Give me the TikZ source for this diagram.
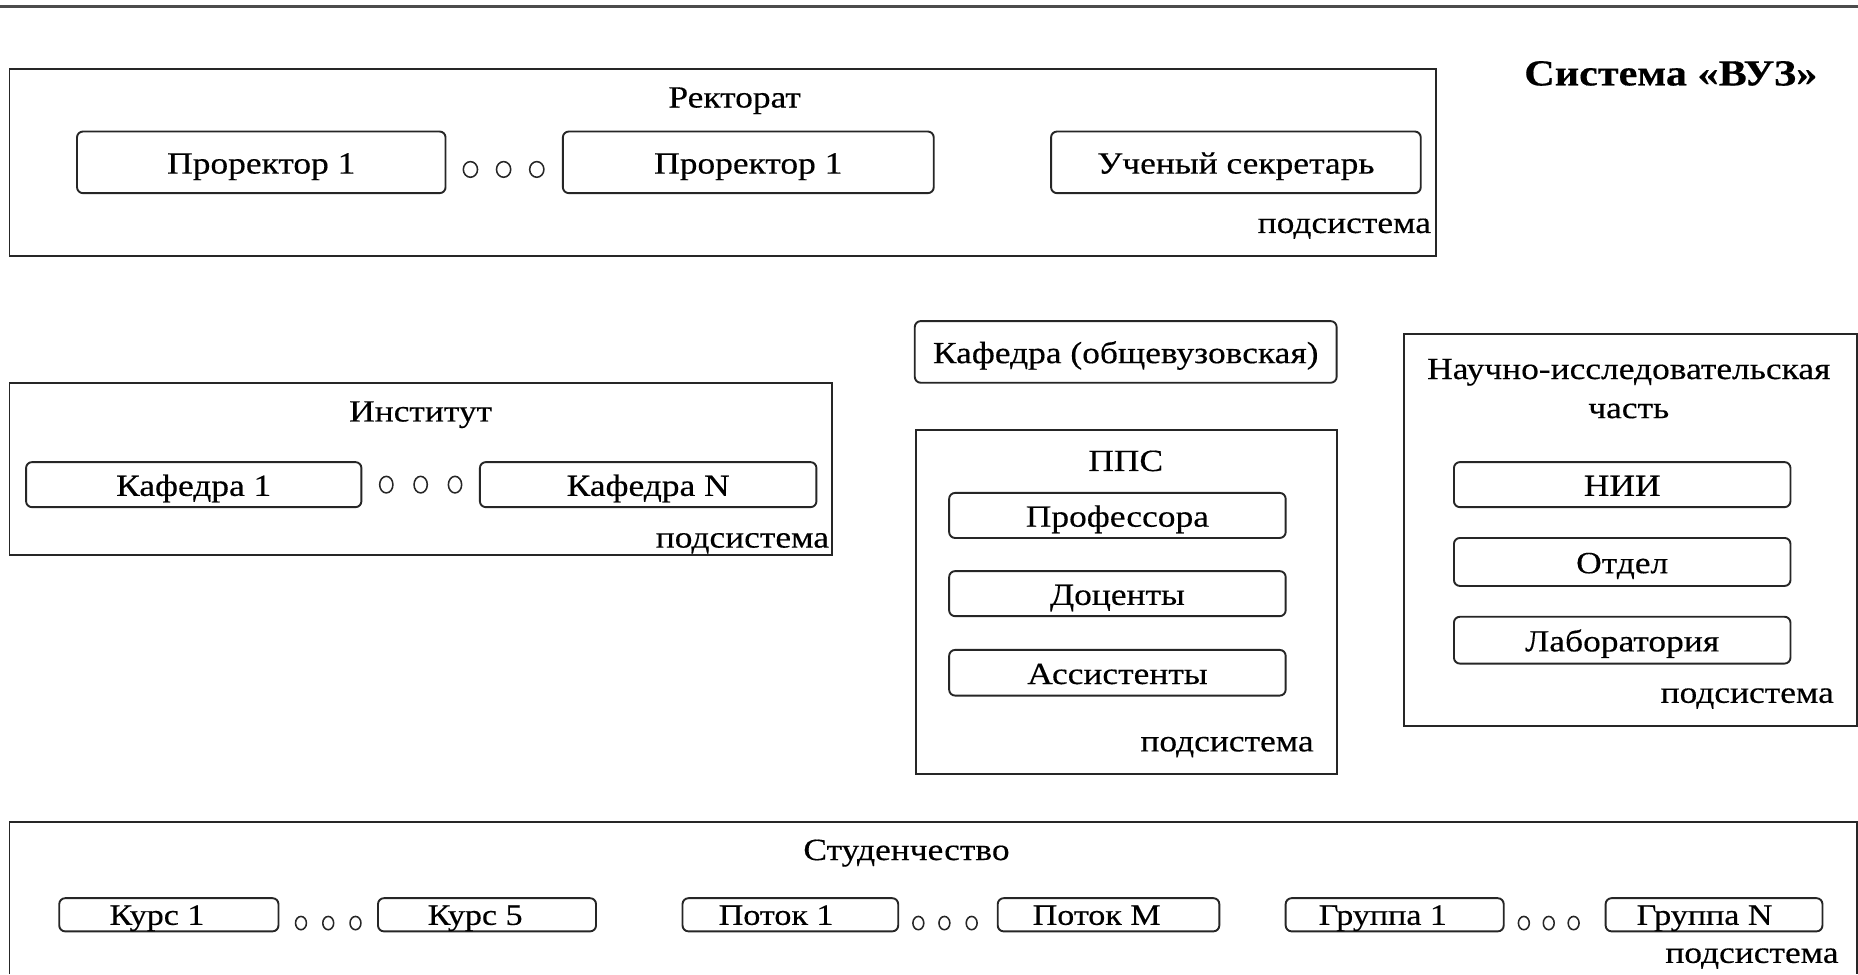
\documentclass[tikz,border=0pt]{standalone}
\usepackage{fontspec}
\setmainfont{Liberation Serif}[FakeStretch=1.15, FakeBold=0.35]
\newcommand\fs{\fontsize{13}{16.5}\selectfont}
\newcommand\fsb{\fontsize{12.5}{15}\selectfont}
\newcommand\fst{\fontsize{15.5}{18}\selectfont\bfseries}
\begin{document}
\begin{tikzpicture}[x=0.5pt,y=-0.5pt,
  frame/.style={draw=black!85, line width=0.8pt, inner sep=0pt},
  rbox/.style={draw=black!85, line width=0.8pt, rounded corners=2.5pt, inner sep=0pt, font=\fs, text height=11pt, text depth=1.5pt},
  sbox/.style={rbox, font=\fsb, text height=10pt, text depth=1.5pt},
  txt/.style={inner sep=0pt, font=\fs},
  sub/.style={inner sep=0pt, font=\fs, anchor=east},
  dot/.style={draw=black!85, line width=0.65pt}]
\useasboundingbox (0,0) rectangle (1568,822);
\fill[white] (0,0) rectangle (1568,822);
% top rule
\coordinate (tl) at (0,5.6);
\coordinate (tr) at (1568,5.6);
\draw[black!70, line width=1pt] (tl) -- (tr);

% ---------- Rectorat ----------
\node[frame, minimum width=602pt, minimum height=79pt] (rect) at (610,137) {};
\node[txt] (rectT) at (620,85) {Ректорат};
\node[rbox, minimum width=155.5pt, minimum height=26pt] (pr1) at (220.5,137) {Проректор 1};
\node[rbox, minimum width=156.5pt, minimum height=26pt] (pr2) at (631.5,137) {Проректор 1};
\node[rbox, minimum width=156pt, minimum height=26pt] (sec) at (1043,137) {Ученый секретарь};
\foreach \x in {397,425,453} \draw[dot] (\x,143) ellipse [x radius=3pt, y radius=3.3pt];
\node[sub] (rectS) at (1208,193) {подсистема};

\node[inner sep=0pt, font=\fst] (title) at (1410,62) {Система «ВУЗ»};

% ---------- Kafedra general ----------
\node[rbox, minimum width=178pt, minimum height=26pt] (kafob) at (950,297) {Кафедра (общевузовская)};

% ---------- Institut ----------
\node[frame, minimum width=347pt, minimum height=72.5pt] (inst) at (355,395.5) {};
\node[txt] (instT) at (355,350) {Институт};
\node[rbox, minimum width=141.5pt, minimum height=19pt] (k1) at (163.5,409) {Кафедра 1};
\node[rbox, minimum width=142pt, minimum height=19pt] (kN) at (547,409) {Кафедра N};
\foreach \x in {326,355,384} \draw[dot] (\x,409) ellipse [x radius=2.8pt, y radius=3.5pt];
\node[sub] (instS) at (700,458.5) {подсистема};

% ---------- PPS ----------
\node[frame, minimum width=177.5pt, minimum height=145pt] (pps) at (950.5,508) {};
\node[txt] (ppsT) at (950,389) {ППС};
\node[rbox, minimum width=142pt, minimum height=19pt] (prof) at (943,435) {Профессора};
\node[rbox, minimum width=142pt, minimum height=19pt] (doc) at (943,501) {Доценты};
\node[rbox, minimum width=142pt, minimum height=19.25pt] (ass) at (943,567.75) {Ассистенты};
\node[sub] (ppsS) at (1109,630.5) {подсистема};

% ---------- NIR ----------
\node[frame, minimum width=191pt, minimum height=165.5pt] (nir) at (1376,447.5) {};
\node[txt, align=center] (nirT) at (1374.5,328) {Научно-исследовательская\\часть};
\node[rbox, minimum width=142pt, minimum height=19pt] (nii) at (1369,409) {НИИ};
\node[rbox, minimum width=142pt, minimum height=20.25pt] (otd) at (1369,474.25) {Отдел};
\node[rbox, minimum width=142pt, minimum height=19.75pt] (lab) at (1369,540.25) {Лаборатория};
\node[sub] (nirS) at (1548,589.5) {подсистема};

% ---------- Students ----------
\coordinate (sbl) at (8,822);
\coordinate (stl) at (8,693.6);
\coordinate (str) at (1567,693.6);
\coordinate (sbr) at (1567,822);
\draw[black!85, line width=0.8pt] (sbl) -- (stl) -- (str) -- (sbr);
\node[txt] (studT) at (765,720) {Студенчество};
\node[sbox, minimum width=92.5pt, minimum height=14pt] (c1) at (142.5,772) {\hspace*{-10pt}Курс 1};
\node[sbox, minimum width=92pt, minimum height=14pt] (c5) at (411,772) {\hspace*{-10pt}Курс 5};
\node[sbox, minimum width=91pt, minimum height=14pt] (p1) at (667,772) {\hspace*{-12pt}Поток 1};
\node[sbox, minimum width=93.5pt, minimum height=14pt] (pM) at (935.5,772) {\hspace*{-10pt}Поток M};
\node[sbox, minimum width=92pt, minimum height=14pt] (g1) at (1177,772) {\hspace*{-10pt}Группа 1};
\node[sbox, minimum width=91.5pt, minimum height=14pt] (gN) at (1446.5,772) {\hspace*{-8pt}Группа N};
\foreach \x in {254,277,300,775,797,820,1286,1307,1328} \draw[dot] (\x,779) ellipse [x radius=2.3pt, y radius=2.8pt];
\node[sub] (studS) at (1552,809) {подсистема};
\end{tikzpicture}
\end{document}
